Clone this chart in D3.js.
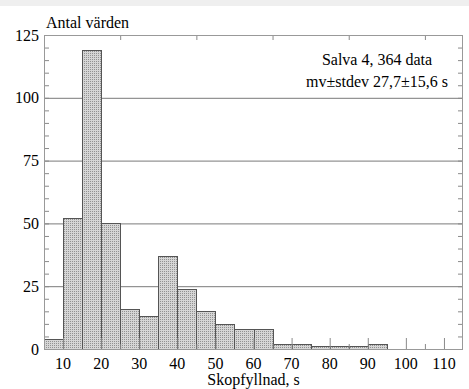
<!DOCTYPE html>
<html>
<head>
<meta charset="utf-8">
<script src="https://cdn.jsdelivr.net/npm/d3@7"></script>
<style>
  body { margin: 0; background: #fff; }
  svg { display: block; }
</style>
</head>
<body>
<svg id="chart" width="469" height="389"></svg>
<script>
// bin lower edges (width 5 s) and counts
const binStarts = [5, 10, 15, 20, 25, 30, 35, 40, 45, 50, 55, 60, 65, 70, 75, 80, 85, 90];
const counts = [4, 52, 119, 50, 16, 13, 37, 24, 15, 10, 8, 8, 2, 2, 1, 1, 1, 2];
const binWidth = 5;
const xTicks = [10, 20, 30, 40, 50, 60, 70, 80, 90, 100, 110];
const xMinorTicks = [25, 45, 65, 85, 105];
const yTicks = [0, 25, 50, 75, 100, 125];
const yGrid = [25, 50, 75, 100];
const statLines = ["Salva 4, 364 data", "mv\u00b1stdev 27,7\u00b115,6 s"];

const FONT = "'Liberation Serif', 'Times New Roman', serif";

const svg = d3.select("#chart");
const margin = { top: 35, right: 6, bottom: 40, left: 44 };
const width = 469 - margin.left - margin.right;
const height = 389 - margin.top - margin.bottom;

svg.append("rect").attr("width", 469).attr("height", 6).attr("fill", "#efefef");

const defs = svg.append("defs");
const pat = defs.append("pattern")
  .attr("id", "stipple")
  .attr("width", 2).attr("height", 2)
  .attr("patternUnits", "userSpaceOnUse");
pat.append("rect").attr("width", 2).attr("height", 2).attr("fill", "#d6d6d6");
pat.append("rect").attr("width", 1).attr("height", 1).attr("fill", "#929292");

const g = svg.append("g")
  .attr("transform", "translate(" + margin.left + "," + margin.top + ")");

const x = d3.scaleLinear().domain([5, 115]).range([0, width]);
const y = d3.scaleLinear().domain([0, 125]).range([height, 0]);

// grid lines
g.append("g")
  .selectAll("line")
  .data(yGrid)
  .enter()
  .append("line")
  .attr("x1", 0).attr("x2", width)
  .attr("y1", d => y(d) + 0.5).attr("y2", d => y(d) + 0.5)
  .attr("stroke", "#7a7a7a");

// bars
g.append("g")
  .selectAll("rect")
  .data(binStarts)
  .enter()
  .append("rect")
  .attr("x", d => Math.round(x(d)) + 0.5)
  .attr("y", (d, i) => Math.round(y(counts[i])) + 0.5)
  .attr("width", d => Math.round(x(d + binWidth)) - Math.round(x(d)))
  .attr("height", (d, i) => Math.round(y(0)) - Math.round(y(counts[i])))
  .attr("fill", "url(#stipple)")
  .attr("stroke", "#555");

// y minor ticks every 5, both sides
const yMinor = d3.range(5, 125, 5);
const tickColor = "#8a8a8a";
g.append("g")
  .call(d3.axisLeft(y).tickValues(yMinor).tickSize(-5).tickFormat(""))
  .call(a => a.selectAll("line").attr("stroke", tickColor));
g.append("g")
  .attr("transform", "translate(" + width + ",0)")
  .call(d3.axisRight(y).tickValues(yMinor).tickSize(-5).tickFormat(""))
  .call(a => a.selectAll("line").attr("stroke", tickColor));

// x ticks
g.append("g")
  .attr("transform", "translate(0," + height + ")")
  .call(d3.axisBottom(x).tickValues(xTicks).tickSize(-11).tickFormat(""))
  .call(a => a.selectAll("line").attr("stroke", tickColor));
g.append("g")
  .attr("transform", "translate(0," + height + ")")
  .call(d3.axisBottom(x).tickValues(xMinorTicks).tickSize(-5).tickFormat(""))
  .call(a => a.selectAll("line").attr("stroke", tickColor));
g.append("g")
  .call(d3.axisTop(x).tickValues(xMinorTicks).tickSize(-5).tickFormat(""))
  .call(a => a.selectAll("line").attr("stroke", tickColor));

svg.selectAll(".domain").remove();

// frame
g.append("rect")
  .attr("x", 0.5).attr("y", 0.5)
  .attr("width", width - 1).attr("height", height)
  .attr("fill", "none")
  .attr("stroke", "#999");

function label(sel) {
  return sel
    .style("font-family", FONT)
    .style("font-size", "16px")
    .attr("fill", "#000");
}

// tick labels
g.append("g")
  .selectAll("text")
  .data(yTicks)
  .enter()
  .append("text")
  .attr("x", -5)
  .attr("y", d => y(d))
  .attr("dy", "0.35em")
  .attr("text-anchor", "end")
  .call(label)
  .text(d => d);

g.append("g")
  .selectAll("text")
  .data(xTicks)
  .enter()
  .append("text")
  .attr("x", d => x(d))
  .attr("y", height + 20)
  .attr("text-anchor", "middle")
  .call(label)
  .text(d => d);

// axis titles
svg.append("text")
  .attr("x", 46).attr("y", 28)
  .call(label)
  .text("Antal v\u00e4rden");

svg.append("text")
  .attr("x", margin.left + width / 2).attr("y", 385)
  .attr("text-anchor", "middle")
  .call(label)
  .text("Skopfyllnad, s");

// stats box
g.append("g")
  .selectAll("text")
  .data(statLines)
  .enter()
  .append("text")
  .attr("x", 377 - margin.left)
  .attr("y", (d, i) => 30 + i * 22)
  .attr("text-anchor", "middle")
  .call(label)
  .text(d => d);
</script>
</body>
</html>
